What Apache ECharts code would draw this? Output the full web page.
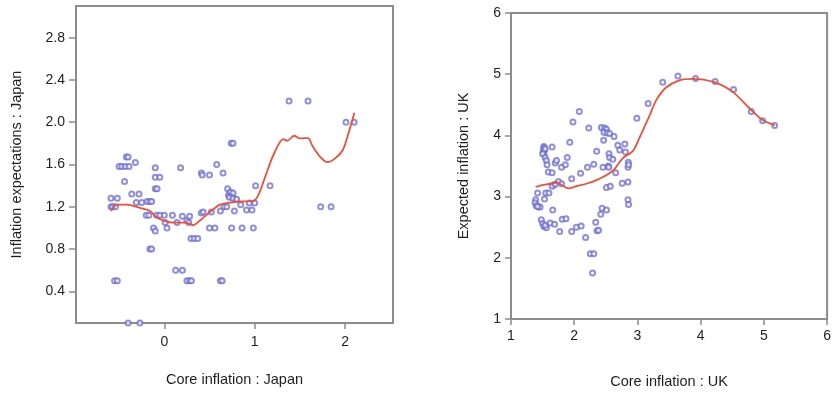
<!DOCTYPE html>
<html>
<head>
<meta charset="utf-8">
<script src="https://cdn.jsdelivr.net/npm/echarts@6/dist/echarts.min.js"></script>
<style>
  html, body { margin: 0; padding: 0; background: #fff; }
  #chart { width: 834px; height: 394px; }
</style>
</head>
<body>
<div id="chart"></div>
<script>
// Japan: core inflation vs. inflation expectations
const japanCore = [
  -0.59, -0.52, -0.59, -0.57, -0.54, -0.55, -0.52, -0.50, -0.47, -0.43,
  -0.39, -0.42, -0.40, -0.44, -0.32, -0.36, -0.28, -0.31, -0.25, -0.19,
  -0.16, -0.14, -0.20, -0.17, -0.10, -0.10, -0.05, -0.10, -0.08, -0.12,
  -0.10, -0.16, -0.14, -0.085, -0.05, 0.00, 0.01, 0.03, 0.09, 0.14,
  0.125, 0.20, 0.18, 0.20, 0.25, 0.28, 0.27, 0.25, 0.28, 0.30,
  0.295, 0.33, 0.37, 0.41, 0.42, 0.41, 0.43, 0.50, 0.52, 0.50,
  0.56, 0.58, 0.65, 0.62, 0.62, 0.64, 0.66, 0.69, 0.70, 0.71,
  0.73, 0.74, 0.75, 0.72, 0.76, 0.76, 0.74, 0.76, 0.745, 0.775,
  0.80, 0.845, 0.86, 0.91, 0.97, 0.94, 1.00, 0.985, 1.01, 1.17,
  1.38, 1.59, 1.73, 1.845, 2.01, 2.10, -0.40, -0.27
];
const japanExpect = [
  1.28, 1.28, 1.20, 1.20, 1.20, 0.50, 0.50, 1.58, 1.58, 1.58,
  1.58, 1.67, 1.67, 1.44, 1.62, 1.32, 1.32, 1.24, 1.24, 1.25,
  1.25, 1.25, 1.12, 1.12, 1.57, 1.48, 1.48, 1.37, 1.37, 1.00,
  0.97, 0.80, 0.80, 1.12, 1.12, 1.12, 1.05, 1.00, 1.12, 1.05,
  0.60, 0.60, 1.57, 1.11, 1.07, 1.11, 1.05, 0.50, 0.50, 0.50,
  0.90, 0.90, 0.90, 1.52, 1.50, 1.14, 1.15, 1.50, 1.15, 1.00,
  1.00, 1.60, 1.52, 1.16, 0.50, 0.50, 1.20, 1.20, 1.37, 1.31,
  1.34, 1.30, 1.29, 1.29, 1.28, 1.33, 1.80, 1.80, 1.00, 1.16,
  1.27, 1.22, 1.00, 1.17, 1.17, 1.235, 1.235, 1.00, 1.40, 1.40,
  2.20, 2.20, 1.20, 1.20, 2.00, 2.00, 0.10, 0.10
];
// Japan: smoothed (local regression) fit
const japanFitX = [
  -0.59, -0.52, -0.42, -0.27, -0.16, -0.085, 0.00, 0.10, 0.23, 0.32,
  0.395, 0.505, 0.616, 0.727, 0.838, 0.985, 1.04, 1.115, 1.207, 1.317,
  1.36, 1.436, 1.50, 1.59, 1.64, 1.724, 1.804, 1.89, 1.975, 2.037, 2.103
];
const japanFitY = [
  1.16, 1.22, 1.22, 1.19, 1.16, 1.10, 1.067, 1.05, 1.05, 1.026,
  1.07, 1.15, 1.22, 1.24, 1.25, 1.256, 1.31, 1.48, 1.69, 1.84,
  1.825, 1.872, 1.847, 1.85, 1.774, 1.673, 1.623, 1.658, 1.737, 1.895, 2.09
];
const japanYTicks = [0.4, 0.8, 1.2, 1.6, 2.0, 2.4, 2.8];
const japanXTicks = [0, 1, 2];

// UK: core inflation vs. expected inflation
const ukCore = [
  3.40, 3.64, 3.92, 4.23, 4.52, 4.80, 4.98, 5.17, 3.17, 2.99,
  2.08, 1.98, 2.23, 2.43, 2.48, 2.51, 2.47, 2.52, 2.56, 2.63,
  2.465, 2.355, 2.69, 2.72, 2.80, 2.81, 2.55, 2.56, 2.61, 1.93,
  1.65, 1.52, 1.52, 1.53, 1.51, 1.52, 1.50, 1.54, 1.54, 1.56,
  1.57, 1.89, 1.70, 1.72, 1.80, 1.86, 2.10, 2.21, 2.31, 2.455,
  2.54, 2.545, 2.655, 2.855, 2.85, 2.86, 1.59, 1.65, 1.96, 1.75,
  1.80, 1.67, 1.65, 1.70, 2.51, 2.57, 2.76, 2.85, 1.42, 1.55,
  1.60, 1.53, 1.39, 1.38, 1.40, 1.44, 1.46, 1.42, 1.66, 2.85,
  2.86, 2.44, 2.51, 2.42, 2.34, 1.48, 1.50, 1.52, 1.56, 1.54,
  1.62, 1.69, 1.77, 1.81, 1.87, 1.96, 2.035, 2.11, 2.18, 2.36,
  2.385, 2.255, 2.31, 2.29
];
const ukExpect = [
  4.87, 4.97, 4.93, 4.88, 4.75, 4.39, 4.24, 4.16, 4.52, 4.28,
  4.39, 4.22, 4.12, 4.13, 4.12, 4.10, 4.05, 4.04, 4.03, 3.98,
  3.92, 3.74, 3.84, 3.76, 3.86, 3.73, 3.70, 3.64, 3.61, 3.89,
  3.81, 3.82, 3.80, 3.77, 3.74, 3.71, 3.70, 3.78, 3.64, 3.59,
  3.52, 3.64, 3.55, 3.59, 3.48, 3.52, 3.38, 3.48, 3.53, 3.48,
  3.50, 3.48, 3.39, 3.56, 3.48, 3.52, 3.40, 3.39, 3.29, 3.245,
  3.21, 3.19, 3.17, 3.20, 3.15, 3.17, 3.22, 3.24, 3.06, 3.06,
  3.06, 2.96, 2.95, 2.90, 2.85, 2.83, 2.83, 2.84, 2.78, 2.95,
  2.87, 2.81, 2.78, 2.71, 2.58, 2.62, 2.56, 2.51, 2.49, 2.53,
  2.57, 2.55, 2.43, 2.63, 2.64, 2.43, 2.50, 2.52, 2.33, 2.44,
  2.45, 2.065, 2.065, 1.75
];
// UK: smoothed (local regression) fit
const ukFitX = [
  1.39, 1.51, 1.615, 1.72, 1.80, 1.905, 2.035, 2.19, 2.35, 2.507,
  2.64, 2.77, 2.927, 3.03, 3.19, 3.30, 3.453, 3.663, 3.87, 4.214,
  4.50, 4.79, 4.975, 5.17
];
const ukFitY = [
  3.157, 3.19, 3.21, 3.23, 3.19, 3.135, 3.17, 3.21, 3.27, 3.35,
  3.455, 3.63, 3.744, 3.955, 4.32, 4.58, 4.783, 4.90, 4.924, 4.87,
  4.715, 4.427, 4.254, 4.164
];
const ukTicks = [1, 2, 3, 4, 5, 6];

const pairs = (xs, ys) => xs.map((x, i) => [x, ys[i]]);

const FONT = '"Liberation Sans", Arial, sans-serif';
const FRAME = '#8c8c8c';
const TEXT = '#1e1e1e';
const DOT = '#6a6ad0';
const FIT = '#ef4f34';

function valueAxis(extra) {
  return Object.assign({
    type: 'value',
    splitLine: { show: false },
    axisLine: { show: true, onZero: false, lineStyle: { color: FRAME, width: 2 } },
    nameLocation: 'middle',
    nameTextStyle: { color: TEXT, fontSize: 14.5, fontFamily: FONT }
  }, extra);
}

const tickStyle = (vals, len) => ({ show: true, length: len, customValues: vals, lineStyle: { color: FRAME, width: 1.5 } });
const labelStyle = (vals, margin, fmt) => ({
  color: TEXT, fontSize: 14, fontFamily: FONT, margin: margin, customValues: vals,
  formatter: fmt || (v => String(v))
});

const chart = echarts.init(document.getElementById('chart'), null, { renderer: 'canvas' });
chart.setOption({
  animation: false,
  backgroundColor: '#ffffff',
  grid: [
    { left: 76, top: 6, width: 317, height: 317, show: true, borderColor: FRAME, borderWidth: 2 },
    { left: 511, top: 13, width: 317, height: 318, show: true, borderColor: FRAME, borderWidth: 2 }
  ],
  xAxis: [
    valueAxis({
      gridIndex: 0, min: -0.977, max: 2.53,
      name: 'Core inflation : Japan', nameGap: 49,
      axisTick: tickStyle(japanXTicks, 6),
      axisLabel: labelStyle(japanXTicks, 12)
    }),
    valueAxis({
      gridIndex: 1, min: 1, max: 6,
      name: 'Core inflation : UK', nameGap: 55,
      axisTick: tickStyle(ukTicks, 6),
      axisLabel: labelStyle(ukTicks, 10)
    })
  ],
  yAxis: [
    valueAxis({
      gridIndex: 0, min: 0.1, max: 3.1,
      name: 'Inflation expectations : Japan', nameGap: 52,
      axisTick: tickStyle(japanYTicks, 7),
      axisLabel: labelStyle(japanYTicks, 11, v => v.toFixed(1))
    }),
    valueAxis({
      gridIndex: 1, min: 1, max: 6,
      name: 'Expected inflation : UK', nameGap: 40,
      axisTick: tickStyle(ukTicks, 6),
      axisLabel: labelStyle(ukTicks, 10)
    })
  ],
  series: [
    {
      type: 'scatter', xAxisIndex: 0, yAxisIndex: 0,
      data: pairs(japanCore, japanExpect),
      symbol: 'emptyCircle', symbolSize: 5,
      itemStyle: { color: DOT, borderWidth: 0.8, opacity: 0.75 }
    },
    {
      type: 'line', xAxisIndex: 0, yAxisIndex: 0,
      data: pairs(japanFitX, japanFitY),
      showSymbol: false, smooth: 0.3,
      lineStyle: { color: FIT, width: 1.8 }, z: 3
    },
    {
      type: 'scatter', xAxisIndex: 1, yAxisIndex: 1,
      data: pairs(ukCore, ukExpect),
      symbol: 'emptyCircle', symbolSize: 5,
      itemStyle: { color: DOT, borderWidth: 0.8, opacity: 0.75 }
    },
    {
      type: 'line', xAxisIndex: 1, yAxisIndex: 1,
      data: pairs(ukFitX, ukFitY),
      showSymbol: false, smooth: 0.3,
      lineStyle: { color: FIT, width: 1.8 }, z: 3
    }
  ]
});
</script>
</body>
</html>
